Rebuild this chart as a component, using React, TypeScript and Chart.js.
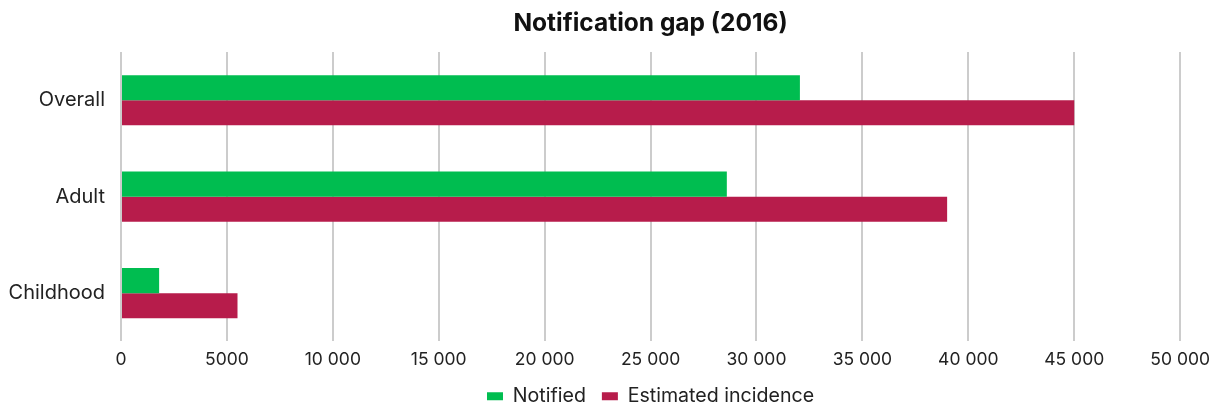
import React, { useEffect, useRef } from "react";
import { Chart, registerables } from "chart.js";

Chart.register(...registerables);

const categories = ["Overall", "Adult", "Childhood"];
const notified = [32050, 28600, 1800];
const estimatedIncidence = [45000, 39000, 5500];
const seriesNames = ["Notified", "Estimated incidence"];
const titleText = "Notification gap (2016)";

const formatTick = (v: number) => {
  if (v < 10000) return String(v);
  const s = String(v);
  return s.slice(0, s.length - 3) + " " + s.slice(s.length - 3);
};

const legendLift = {
  id: "legendLift",
  afterLayout(chart: any) {
    const lg = chart.legend;
    if (lg) {
      lg.top -= 8;
      lg.bottom -= 8;
    }
  },
};

export default function App() {
  const ref = useRef<HTMLCanvasElement | null>(null);
  useEffect(() => {
    if (!ref.current) return;
    const font = "Inter";
    const chart = new Chart(ref.current, {
      type: "bar",
      data: {
        labels: categories,
        datasets: [
          {
            label: seriesNames[0],
            data: notified,
            backgroundColor: "#00bd50",
            categoryPercentage: 0.52,
            barPercentage: 1,
          },
          {
            label: seriesNames[1],
            data: estimatedIncidence,
            backgroundColor: "#b71c4b",
            categoryPercentage: 0.52,
            barPercentage: 1,
          },
        ],
      },
      options: {
        indexAxis: "y",
        animation: false,
        responsive: true,
        maintainAspectRatio: false,
        layout: { padding: { left: 9, right: 7, top: 9, bottom: -17 } },
        scales: {
          x: {
            min: 0,
            max: 50000,
            ticks: {
              stepSize: 5000,
              color: "#222",
              font: { family: font, size: 17.5 },
              padding: 8,
              callback: (v: any) => formatTick(Number(v)),
            },
            grid: { color: "#cccccc", lineWidth: 2, drawTicks: false },
            border: { display: false },
          },
          y: {
            afterFit: (scale: any) => {
              scale.width = 112;
            },
            ticks: { color: "#222", font: { family: font, size: 20 }, padding: 16 },
            grid: { display: false, drawTicks: false },
            border: { display: false },
          },
        },
        plugins: {
          title: {
            display: true,
            fullSize: false,
            text: titleText,
            color: "#111",
            font: { family: font, size: 24.5, weight: "bold" },
            padding: { top: 0, bottom: 13.6 },
          },
          legend: {
            position: "bottom",
            fullSize: false,
            labels: {
              boxWidth: 16,
              boxHeight: 8,
              color: "#222",
              font: { family: font, size: 19.6 },
              padding: 16,
            },
          },
          tooltip: { enabled: false },
        },
      },
      plugins: [legendLift],
    });
    return () => chart.destroy();
  }, []);
  return (
    <div style={{ position: "fixed", left: 0, top: 0, width: 1218, height: 407 }}>
      <canvas ref={ref} />
    </div>
  );
}
